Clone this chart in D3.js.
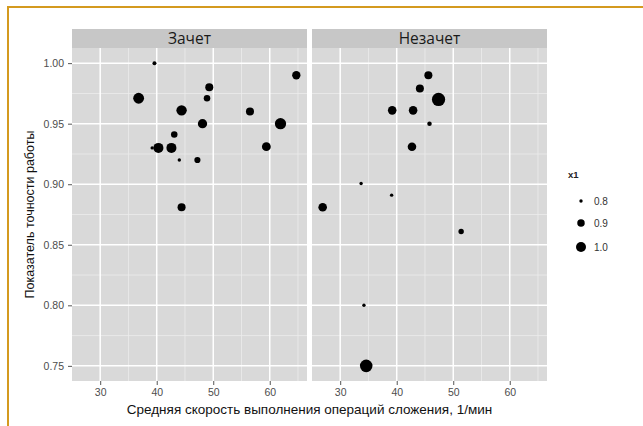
<!DOCTYPE html>
<html>
<head>
<meta charset="utf-8">
<script src="https://cdn.jsdelivr.net/npm/d3@7"></script>
<style>
  body { margin: 0; background: #fff; }
  svg { display: block; }
</style>
</head>
<body>
<script>
// data
const facets = ["Зачет", "Незачет"];

const zachetSpeed    = [39.6, 64.7, 36.8, 49.3, 48.9, 44.4, 56.5, 48.1, 61.9, 43.1, 39.2, 40.3, 42.6, 44.0, 47.2, 59.4, 44.4];
const zachetAccuracy = [1.00, 0.99, 0.971, 0.98, 0.971, 0.961, 0.96, 0.95, 0.95, 0.941, 0.93, 0.93, 0.93, 0.92, 0.92, 0.931, 0.881];
const zachetX1       = [0.81, 0.93, 1.04, 0.92, 0.87, 1.02, 0.92, 0.97, 1.06, 0.87, 0.80, 1.00, 1.00, 0.80, 0.86, 0.95, 0.92];

const nezachetSpeed    = [45.6, 44.1, 47.4, 39.2, 42.9, 45.8, 42.7, 33.7, 39.1, 26.9, 51.4, 34.2, 34.6];
const nezachetAccuracy = [0.99, 0.979, 0.97, 0.961, 0.961, 0.95, 0.931, 0.9006, 0.891, 0.881, 0.861, 0.80, 0.75];
const nezachetX1       = [0.92, 0.92, 1.17, 0.94, 0.94, 0.82, 0.94, 0.80, 0.80, 0.94, 0.84, 0.80, 1.13];

const xTicks = [30, 40, 50, 60];
const xMinor = [35, 45, 55, 65];
const yTicks = [0.75, 0.80, 0.85, 0.90, 0.95, 1.00];
const yMinor = [0.775, 0.825, 0.875, 0.925, 0.975];
const legendValues = [0.8, 0.9, 1.0];

const xTitle = "Средняя скорость выполнения операций сложения, 1/мин";
const yTitle = "Показатель точности работы";

const width = 643, height = 426;
const panelW = 235, gap = 5;
const panelLeft = 72, panelTop = 48, panelBottom = 381, stripH = 19;

const svg = d3.select("body").append("svg")
  .attr("width", width)
  .attr("height", height)
  .style("font-family", "'Liberation Sans', Arial, sans-serif");

// orange frame from the scanned page
svg.append("line").attr("x1", 7).attr("x2", width).attr("y1", 7).attr("y2", 7)
  .attr("stroke", "#d49a1f").attr("stroke-width", 2);
svg.append("line").attr("x1", 8).attr("x2", 8).attr("y1", 6).attr("y2", height)
  .attr("stroke", "#d49a1f").attr("stroke-width", 2);

// ggplot-like 5% expansion
const allSpeed = zachetSpeed.concat(nezachetSpeed);
const allAcc = zachetAccuracy.concat(nezachetAccuracy);
function expand(ext) {
  const d = (ext[1] - ext[0]) * 0.05;
  return [ext[0] - d, ext[1] + d];
}

const y = d3.scaleLinear().domain(expand(d3.extent(allAcc))).range([panelBottom, panelTop]);
const size = d3.scaleRadial().domain([0.8, 1.0]).range([1.7, 5.0]);

const panels = [
  { name: facets[0], speed: zachetSpeed, acc: zachetAccuracy, x1: zachetX1 },
  { name: facets[1], speed: nezachetSpeed, acc: nezachetAccuracy, x1: nezachetX1 }
];

panels.forEach((p, i) => {
  const left = panelLeft + i * (panelW + gap);
  const x = d3.scaleLinear().domain(expand(d3.extent(allSpeed))).range([left, left + panelW]);

  // strip
  svg.append("rect")
    .attr("x", left).attr("y", panelTop - stripH)
    .attr("width", panelW).attr("height", stripH)
    .attr("fill", "#c7c7c7");
  svg.append("text")
    .attr("x", left + panelW / 2).attr("y", panelTop - stripH / 2 + 5)
    .attr("text-anchor", "middle")
    .style("font-family", "'Open Sans', sans-serif")
    .style("font-size", "15.5px")
    .attr("fill", "#1a1a1a")
    .text(p.name);

  // panel
  svg.append("rect")
    .attr("x", left).attr("y", panelTop)
    .attr("width", panelW).attr("height", panelBottom - panelTop)
    .attr("fill", "#d9d9d9");

  const grid = svg.append("g");
  grid.selectAll(".minx").data(xMinor).join("line")
    .attr("x1", d => x(d)).attr("x2", d => x(d))
    .attr("y1", panelTop).attr("y2", panelBottom)
    .attr("stroke", "#ececec").attr("stroke-width", 0.8);
  grid.selectAll(".miny").data(yMinor).join("line")
    .attr("x1", left).attr("x2", left + panelW)
    .attr("y1", d => y(d)).attr("y2", d => y(d))
    .attr("stroke", "#ececec").attr("stroke-width", 0.8);
  grid.selectAll(".majx").data(xTicks).join("line")
    .attr("x1", d => x(d)).attr("x2", d => x(d))
    .attr("y1", panelTop).attr("y2", panelBottom)
    .attr("stroke", "#fff").attr("stroke-width", 1.5);
  grid.selectAll(".majy").data(yTicks).join("line")
    .attr("x1", left).attr("x2", left + panelW)
    .attr("y1", d => y(d)).attr("y2", d => y(d))
    .attr("stroke", "#fff").attr("stroke-width", 1.5);

  // points
  const pts = p.speed.map((s, k) => ({ s, a: p.acc[k], v: p.x1[k] }));
  svg.append("g").selectAll("circle").data(pts).join("circle")
    .attr("cx", d => x(d.s))
    .attr("cy", d => y(d.a))
    .attr("r", d => size(d.v))
    .attr("fill", "#000");

  // x axis
  const xAxis = svg.append("g")
    .attr("transform", `translate(0,${panelBottom})`)
    .call(d3.axisBottom(x).tickValues(xTicks).tickSize(4).tickPadding(4));
  xAxis.select(".domain").remove();
  xAxis.selectAll("line").attr("stroke", "#555");
  xAxis.selectAll("text").attr("fill", "#4d4d4d").style("font-size", "10.5px");
});

// y axis
const yAxis = svg.append("g")
  .attr("transform", `translate(${panelLeft},0)`)
  .call(d3.axisLeft(y).tickValues(yTicks).tickFormat(d3.format(".2f")).tickSize(4).tickPadding(4));
yAxis.select(".domain").remove();
yAxis.selectAll("line").attr("stroke", "#555");
yAxis.selectAll("text").attr("fill", "#4d4d4d").style("font-size", "10.5px");

// titles
svg.append("text")
  .attr("x", panelLeft + panelW + gap / 2).attr("y", 414)
  .attr("text-anchor", "middle")
  .style("font-size", "13.5px")
  .attr("fill", "#111")
  .text(xTitle);

svg.append("text")
  .attr("transform", `translate(34,${(panelTop + panelBottom) / 2}) rotate(-90)`)
  .attr("text-anchor", "middle")
  .style("font-size", "12.5px")
  .attr("fill", "#111")
  .text(yTitle);

// size legend
const legend = svg.append("g");
legend.append("text")
  .attr("x", 568).attr("y", 178)
  .style("font-size", "9.5px").style("font-weight", "bold")
  .attr("fill", "#222")
  .text("x1");
const keyY = [201, 223, 247];
legend.selectAll("circle").data(legendValues).join("circle")
  .attr("cx", 581).attr("cy", (d, i) => keyY[i])
  .attr("r", d => size(d))
  .attr("fill", "#000");
legend.selectAll(".lab").data(legendValues).join("text")
  .attr("x", 594).attr("y", (d, i) => keyY[i] + 3.5)
  .style("font-size", "10px")
  .attr("fill", "#333")
  .text(d => d3.format(".1f")(d));
</script>
</body>
</html>
